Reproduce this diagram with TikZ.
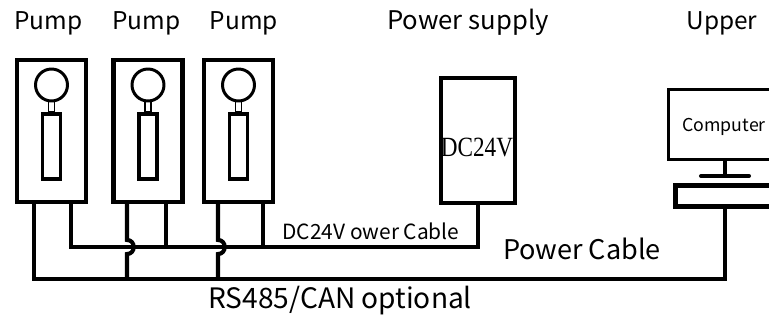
\documentclass[tikz,border=0pt]{standalone}
\usepackage{fontspec}
\setmainfont{Noto Sans CJK SC}
\newfontfamily\dcfont{Liberation Serif}
\usetikzlibrary{positioning,calc}

\tikzset{
  pumpbox/.style={draw, line width=2.3pt, minimum width=1.38cm, minimum height=2.84cm, inner sep=0pt},
  lamp/.style={draw, circle, line width=1.7pt, minimum size=0.64cm, inner sep=0pt},
  stem/.style={draw, line width=0.8pt, minimum width=0.12cm, minimum height=0.22cm, inner sep=0pt},
  tube/.style={draw, line width=2.1pt, minimum width=0.36cm, minimum height=1.3cm, inner sep=0pt},
  cable/.style={line width=2.3pt},
  toplbl/.style={anchor=base, inner sep=0pt, font=\fontsize{13.9}{16}\selectfont},
}

\begin{document}
\begin{tikzpicture}[x=0.02cm, y=-0.02cm]
    \useasboundingbox (0,0) rectangle (769,321);
    \clip (0,0) rectangle (769,321);

    % Pumps
    \foreach \n/\x in {1/51.5, 2/148, 3/238.5} {
        \node[pumpbox] (p\n) at (\x,131) {};
        \node[lamp] (l\n) at (\x,85) {};
        \node[stem] (s\n) at (\x,106.5) {};
        \node[tube] (t\n) at (\x,146.5) {};
    }
    \node[toplbl] (pump1) at (48.5,30) {Pump};
    \node[toplbl] (pump2) at (146.5,30) {Pump};
    \node[toplbl] (pump3) at (244,30) {Pump};

    % Power supply
    \node[pumpbox, minimum width=1.48cm, minimum height=2.5cm] (ps) at (478,140.5) {};
    \node[anchor=base, inner sep=0pt, yscale=1.2, font=\dcfont\fontsize{13.2}{15}\selectfont] (dc) at (477,156) {DC24V};
    \node[toplbl, font=\fontsize{14.6}{16}\selectfont] (pslbl) at (468,30) {Power supply};

    % Upper computer
    \node[draw, line width=1.7pt, minimum width=2.28cm, minimum height=1.4cm] (mon) at (725,124.5) {};
    \node[anchor=base, inner sep=0pt, font=\fontsize{10.1}{12}\selectfont] (comp) at (724,132) {Computer};
    \coordinate (foot) at (725,176);
    \draw[cable] (mon.south) -- (foot);
    \draw[cable, line cap=round] ($(foot)+(-24,0)$) -- ($(foot)+(24,0)$);
    \node[draw, line width=2.8pt, minimum width=1.98cm, minimum height=0.42cm] (base) at (725,196) {};
    \node[toplbl] (upper) at (722,30) {Upper};

    % Cables
    \coordinate (pwrlvl) at (0,247);
    \coordinate (rslvl) at (0,279);
    \coordinate (p1l) at ($(p1.south)+(-17.5,0)$);
    \coordinate (p1r) at ($(p1.south)+(19.5,0)$);
    \coordinate (p2l) at ($(p2.south)+(-21,0)$);
    \coordinate (p2r) at ($(p2.south)+(18,0)$);
    \coordinate (p3l) at ($(p3.south)+(-20.5,0)$);
    \coordinate (p3r) at ($(p3.south)+(24.5,0)$);

    \draw[cable] (p1r) |- (ps.south |- pwrlvl) -- (ps.south);
    \draw[cable] (p2r) -- (p2r |- pwrlvl);
    \draw[cable] (p3r) -- (p3r |- pwrlvl);
    \draw[cable] (p1l) |- (base.south |- rslvl) -- (base.south);
    \foreach \leg in {p2l,p3l}
        \draw[cable] (\leg) -- ($(\leg |- pwrlvl)+(0,-7)$)
            .. controls +(9,0) and +(9,0) .. ($(\leg |- pwrlvl)+(0,7)$) -- (\leg |- rslvl);

    \node[anchor=base, inner sep=0pt, font=\fontsize{11.9}{14}\selectfont] (dccbl) at (371,239) {DC24V ower Cable};
    \node[anchor=base, inner sep=0pt, font=\fontsize{15.4}{18}\selectfont] (pcbl) at (582,259) {Power Cable};
    \node[anchor=base west, inner sep=0pt, font=\fontsize{16}{18}\selectfont] (rs) at (208,308) {RS485/CAN optional};
\end{tikzpicture}
\end{document}
